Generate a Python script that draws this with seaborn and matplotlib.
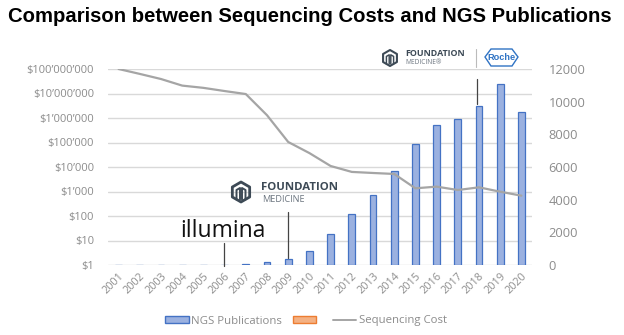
import matplotlib
matplotlib.use("Agg")
import matplotlib.pyplot as plt
import seaborn as sns
import pandas as pd
import numpy as np
from matplotlib.patches import Patch, Polygon
from matplotlib.lines import Line2D

years = [str(y) for y in range(2001, 2021)]
ngs_publications = [15, 15, 15, 20, 20, 25, 40, 165, 370, 860, 1880, 3100, 4290,
                    5760, 7430, 8570, 8920, 9760, 11100, 9390]
sequencing_cost = [1.0e8, 6.3e7, 3.9e7, 2.1e7, 1.7e7, 1.26e7, 9.5e6, 1.3e6, 1.05e5,
                   3.7e4, 1.1e4, 6.3e3, 5.7e3, 5.2e3, 1.35e3, 1.58e3, 1.15e3, 1.48e3,
                   980, 675]
left_ticks = [1, 10, 100, 1000, 1e4, 1e5, 1e6, 1e7, 1e8]
left_labels = ["$1", "$10", "$100", "$1\u2019000", "$10\u2019000", "$100\u2019000",
               "$1\u2019000\u2019000", "$10\u2019000\u2019000", "$100\u2019000\u2019000"]
right_ticks = [0, 2000, 4000, 6000, 8000, 10000, 12000]

df = pd.DataFrame({"Year": years, "NGS Publications": ngs_publications,
                   "Sequencing Cost": sequencing_cost})

sns.set_theme(style="white")
plt.rcParams["font.family"] = ["Open Sans", "DejaVu Sans"]

W, H = 624, 335
fig = plt.figure(figsize=(W / 100, H / 100), dpi=100)
fig.patch.set_facecolor("white")

def fx(x):
    return x / W

def fy(y):
    return 1 - y / H

ax_bar = fig.add_axes([fx(108), fy(265), fx(532) - fx(108), fy(69) - fy(265)])
ax_line = ax_bar.twinx()

tick_col = "#8c8c8c"

# bars on the right (linear) axis
sns.barplot(data=df, x="Year", y="NGS Publications", ax=ax_bar, width=0.32,
            color="#9bb1e0", edgecolor="#4472c4", linewidth=0.9, saturation=1)
ax_bar.set_ylim(0, 12000)
ax_bar.yaxis.tick_right()
ax_bar.yaxis.set_label_position("right")
ax_bar.set_yticks(right_ticks)
ax_bar.set_yticklabels([str(t) for t in right_ticks])
ax_bar.set_xlabel("")
ax_bar.set_ylabel("")
ax_bar.set_xlim(-0.5, len(years) - 0.5)

# line on the left (log) axis
sns.lineplot(data=df, x="Year", y="Sequencing Cost", ax=ax_line, color="#a5a5a5",
             linewidth=1.6, sort=False)
ax_line.set_yscale("log")
ax_line.set_ylim(1, 1e8)
ax_line.yaxis.tick_left()
ax_line.yaxis.set_label_position("left")
ax_line.set_yticks(left_ticks)
ax_line.set_yticklabels(left_labels)
ax_line.minorticks_off()
ax_line.set_ylabel("")
ax_line.set_xlim(-0.5, len(years) - 0.5)

# gridlines (at log axis positions)
for t in left_ticks:
    ax_bar.axhline(np.log10(t) * 1500, color="#d9d9d9", linewidth=1.0, zorder=0)

for a in (ax_bar, ax_line):
    for s in a.spines.values():
        s.set_visible(False)
    a.tick_params(axis="both", length=0, colors=tick_col, labelsize=9)
    a.grid(False)
ax_bar.set_axisbelow(True)
ax_line.tick_params(axis="y", labelsize=8.0, pad=10)
ax_bar.tick_params(axis="y", labelsize=9.3, pad=12)

for lab in ax_bar.get_xticklabels():
    lab.set_rotation(45)
    lab.set_ha("right")
    lab.set_rotation_mode("anchor")
    lab.set_color(tick_col)
    lab.set_fontsize(7.8)
ax_bar.tick_params(axis="x", pad=4)

# title
fig.text(fx(8), fy(17), "Comparison between Sequencing Costs and NGS Publications",
         ha="left", va="center", fontsize=14.6, fontweight="bold",
         family=["Liberation Sans", "DejaVu Sans"], color="black")

# legend
handles = [Patch(facecolor="#9bb1e0", edgecolor="#4472c4", label="NGS Publications"),
           Patch(facecolor="#f4b183", edgecolor="#ed7d31", label=" "),
           Line2D([0], [0], color="#a5a5a5", linewidth=1.4, label="Sequencing Cost")]
leg = fig.legend(handles=handles, loc="center", bbox_to_anchor=(fx(306), fy(321)),
                 ncol=3, frameon=False, fontsize=8.2, handlelength=2.1,
                 handleheight=0.6, columnspacing=0.9, handletextpad=0.25)
for t in leg.get_texts():
    t.set_color(tick_col)

dark = "#3d4a56"

def px_poly(pts, **kw):
    poly = Polygon([(fx(x), fy(y)) for x, y in pts], closed=True,
                   transform=fig.transFigure, **kw)
    fig.add_artist(poly)

def px_line(xs, ys, **kw):
    fig.add_artist(Line2D([fx(x) for x in xs], [fy(y) for y in ys],
                          transform=fig.transFigure, **kw))

def fm_icon(cx, cy, r, lw):
    ang = np.deg2rad(np.arange(6) * 60 + 90)
    pts = [(cx + r * np.cos(a), cy - r * np.sin(a)) for a in ang]
    px_poly(pts, facecolor="none", edgecolor=dark, linewidth=lw, joinstyle="round")
    px_line([cx - 0.45 * r, cx - 0.45 * r, cx - 0.1 * r, cx - 0.1 * r],
            [cy + 0.75 * r, cy - 0.2 * r, cy - 0.4 * r, cy + 0.75 * r],
            color=dark, linewidth=lw * 0.7)
    px_line([cx + 0.45 * r, cx + 0.45 * r, cx + 0.1 * r, cx + 0.1 * r],
            [cy + 0.75 * r, cy - 0.2 * r, cy - 0.4 * r, cy + 0.75 * r],
            color=dark, linewidth=lw * 0.7)

# illumina annotation
fig.text(fx(223), fy(231), "illumina", ha="center", va="center", fontsize=16.5,
         color="#111111", family=["Open Sans", "DejaVu Sans"])
px_line([224, 224], [243, 266], color="#444444", linewidth=0.9)

# Foundation Medicine annotation
fm_icon(241, 192, 10, 2.0)
fig.text(fx(261), fy(188), "FOUNDATION", ha="left", va="center", fontsize=8.2,
         fontweight="bold", color=dark, family=["Open Sans", "DejaVu Sans"])
fig.text(fx(262), fy(200), "MEDICINE", ha="left", va="center", fontsize=6.6,
         color="#6d7680", family=["Open Sans", "DejaVu Sans"])
px_line([288, 288], [212, 258], color="#444444", linewidth=0.9)

# Foundation Medicine | Roche annotation
fm_icon(390, 58, 8, 1.5)
fig.text(fx(405), fy(54), "FOUNDATION", ha="left", va="center", fontsize=6.4,
         fontweight="bold", color=dark, family=["Open Sans", "DejaVu Sans"])
fig.text(fx(405), fy(63), "MEDICINE\u00ae", ha="left", va="center", fontsize=4.8,
         color="#6d7680", family=["Open Sans", "DejaVu Sans"])
px_line([476, 476], [49, 67], color="#bbbbbb", linewidth=0.8)
px_poly([(485, 57), (491, 49), (512, 49), (518, 57), (512, 66), (491, 66)],
        facecolor="white", edgecolor="#2f73c4", linewidth=1.0)
fig.text(fx(501.5), fy(57.5), "Roche", ha="center", va="center", fontsize=6.6,
         fontweight="bold", color="#2f73c4", family=["Liberation Sans Narrow", "Liberation Sans", "DejaVu Sans"])
px_line([477, 477], [79, 104], color="#444444", linewidth=0.9)

fig.savefig("out.png", dpi=100, facecolor="white")
